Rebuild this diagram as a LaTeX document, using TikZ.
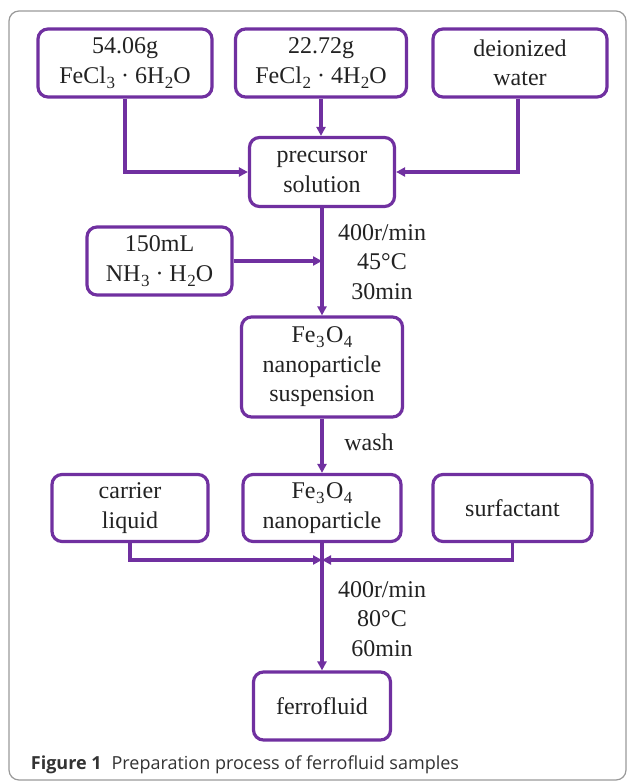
\documentclass[tikz,border=0pt]{standalone}
\usepackage{fontspec}
\setmainfont{Liberation Serif}
\newfontfamily\capfont{Open Sans}
\usetikzlibrary{arrows.meta}
\definecolor{boxpurple}{HTML}{7030A0}
\definecolor{textgray}{HTML}{222222}
\newcommand{\chemsub}[1]{\kern0.5pt\raisebox{-0.45ex}{\fontsize{17}{17}\selectfont #1}}

\begin{document}
\begin{tikzpicture}[
    x=1pt, y=-1pt, % 以像素为单位
    line width=3.2pt,
    every node/.style={text=textgray, font=\fontsize{24}{29.5}\selectfont},
    box/.style={
        draw=boxpurple,
        rounded corners=10pt,
        align=center,
        inner sep=0pt
    },
    flow/.style={draw=boxpurple, -{Triangle[length=9pt,width=9pt]}},
    cond/.style={align=center}
]
  \useasboundingbox (0,0) rectangle (629,782);
  % 外框
  \draw[gray!80, line width=1.2pt, rounded corners=10pt] (9,11) rectangle (626,780);

  % 第一行
  \node[box, minimum width=174pt, minimum height=68pt] (fecl3) at (125,63)
    {54.06g\\FeCl\chemsub{3}\ · 6H\chemsub{2}O};
  \node[box, minimum width=171pt, minimum height=68pt] (fecl2) at (321,63)
    {22.72g\\FeCl\chemsub{2}\ · 4H\chemsub{2}O};
  \node[box, minimum width=174pt, minimum height=68pt] (water) at (520,63)
    {deionized\\water};

  \node[box, minimum width=145pt, minimum height=69pt] (pre) at (322,172)
    {precursor\\solution};
  \node[box, minimum width=145pt, minimum height=68pt] (nh3) at (159.5,261)
    {150mL\\NH\chemsub{3}\ · H\chemsub{2}O};
  \node[cond] (cond1) at (382,262) {400r/min\\45°C\\30min};

  \node[box, minimum width=161pt, minimum height=100pt] (susp) at (322,367)
    {Fe\chemsub{3}\kern1.5pt O\chemsub{4}\\nanoparticle\\suspension};
  \node (wash) at (369,442) {wash};

  % 第二行
  \node[box, minimum width=156pt, minimum height=67pt] (carrier) at (130,508)
    {carrier\\liquid};
  \node[box, minimum width=158pt, minimum height=67pt] (nano) at (322,508)
    {Fe\chemsub{3}\kern1.5pt O\chemsub{4}\\nanoparticle};
  \node[box, minimum width=159pt, minimum height=67pt] (surf) at (512.5,508)
    {surfactant};
  \node[cond] (cond2) at (382,619) {400r/min\\80°C\\60min};

  \node[box, minimum width=137pt, minimum height=68pt] (ferro) at (322,706)
    {ferrofluid};

  \node[anchor=base west, text=black!80, font=\capfont\fontsize{18}{20}\selectfont] (cap) at (26,769)
    {\textbf{Figure 1}\hspace{0.55em}Preparation process of ferrofluid samples};

  % 连线
  \coordinate (j1) at (322,261);
  \coordinate (j2) at (322,560);
  \draw[flow] (fecl3.south) |- (pre.west);
  \draw[flow] (fecl2.south) -- (fecl2.south |- pre.north);
  \draw[flow] (water.south -| 518,0) |- (pre.east);
  \draw[flow] (pre.south) -- (susp.north);
  \draw[flow] (nh3.east) -- (j1);
  \draw[flow] (susp.south) -- (nano.north);
  \draw[flow] (carrier.south) |- (j2);
  \draw[flow] (surf.south) |- (j2);
  \draw[flow] (nano.south) -- (ferro.north);
\end{tikzpicture}
\end{document}
